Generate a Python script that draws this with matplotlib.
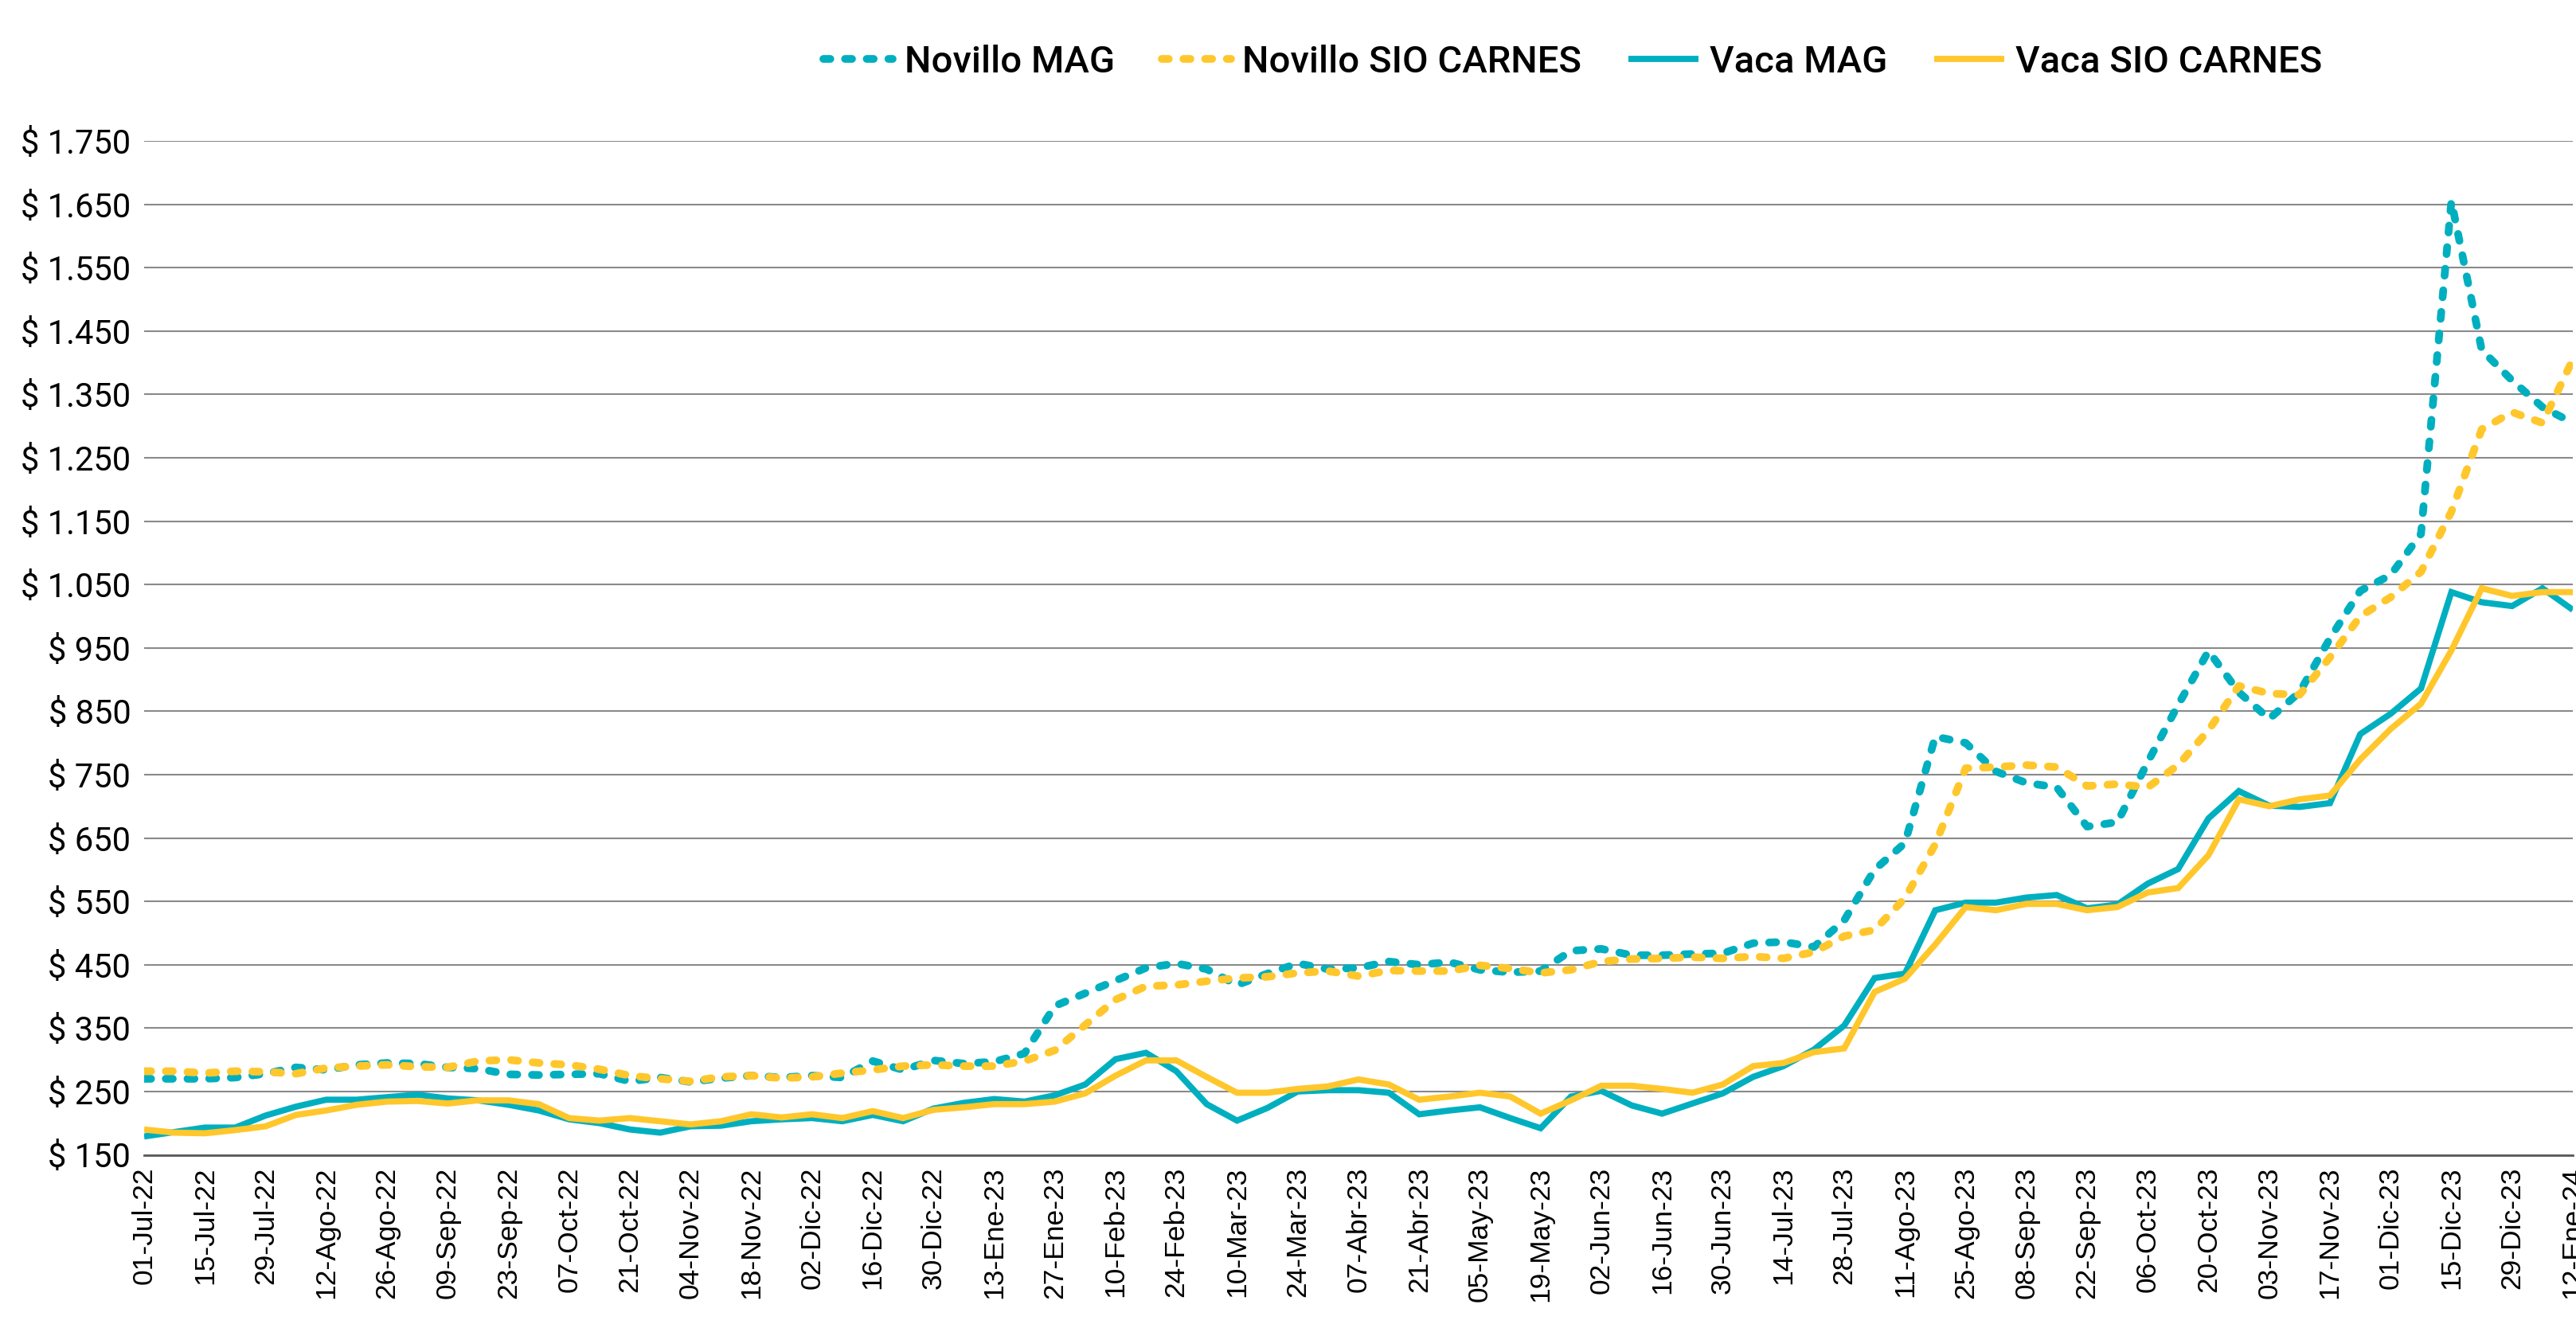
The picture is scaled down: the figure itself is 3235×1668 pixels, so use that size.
import matplotlib
matplotlib.use("Agg")
import matplotlib.pyplot as plt
from matplotlib.ticker import FuncFormatter

# ---------------- data (weekly, 01-Jul-22 .. 12-Ene-24) ----------------
tick_labels = [
    "01-Jul-22", "15-Jul-22", "29-Jul-22", "12-Ago-22", "26-Ago-22", "09-Sep-22",
    "23-Sep-22", "07-Oct-22", "21-Oct-22", "04-Nov-22", "18-Nov-22", "02-Dic-22",
    "16-Dic-22", "30-Dic-22", "13-Ene-23", "27-Ene-23", "10-Feb-23", "24-Feb-23",
    "10-Mar-23", "24-Mar-23", "07-Abr-23", "21-Abr-23", "05-May-23", "19-May-23",
    "02-Jun-23", "16-Jun-23", "30-Jun-23", "14-Jul-23", "28-Jul-23", "11-Ago-23",
    "25-Ago-23", "08-Sep-23", "22-Sep-23", "06-Oct-23", "20-Oct-23", "03-Nov-23",
    "17-Nov-23", "01-Dic-23", "15-Dic-23", "29-Dic-23", "12-Ene-24",
]

novillo_mag = [
    270, 270, 270, 272, 278, 288, 284, 292, 295, 294,
    288, 286, 277, 276, 277, 278, 266, 272, 265, 271,
    275, 272, 275, 272, 298, 284, 299, 294, 297, 310,
    385, 405, 425, 445, 452, 443, 418, 436, 452, 443,
    445, 455, 450, 454, 442, 438, 440, 472, 475, 465,
    465, 467, 468, 484, 486, 478, 520, 600, 642, 810,
    800, 755, 737, 730, 668, 675, 770, 860, 945, 880,
    838, 880, 965, 1040, 1065, 1130, 1655, 1420, 1372, 1330,
    1305,
]

novillo_sio = [
    282, 282, 279, 282, 281, 278, 287, 290, 292, 289,
    288, 298, 300, 295, 292, 285, 275, 270, 266, 273,
    275, 271, 273, 279, 284, 290, 292, 290, 290, 298,
    315, 355, 395, 416, 418, 424, 429, 431, 437, 440,
    432, 441, 440, 440, 449, 444, 437, 442, 455, 459,
    460, 462, 460, 463, 460, 470, 495, 505, 555, 640,
    760, 762, 765, 762, 732, 735, 730, 765, 820, 890,
    878, 876, 935, 1000, 1030, 1070, 1165, 1295, 1322, 1305,
    1405,
]

vaca_mag = [
    179, 186, 193, 193, 212, 226, 237, 237, 241, 245,
    239, 236, 229, 220, 206, 200, 190, 185, 195, 196,
    203, 206, 208, 203, 213, 203, 223, 232, 238, 234,
    244, 261, 301, 311, 282, 230, 204, 224, 250, 252,
    252, 248, 214, 220, 225, 208, 192, 242, 251, 228,
    215, 231, 247, 273, 290, 316, 354, 429, 436, 536,
    548, 548, 556, 560, 539, 545, 578, 601, 681, 724,
    701, 699, 705, 814, 846, 886, 1038, 1022, 1016, 1044,
    1010,
]

vaca_sio = [
    190, 185, 184, 189, 195, 213, 220, 229, 234, 235,
    231, 236, 236, 230, 208, 204, 208, 203, 198, 203,
    214, 209, 214, 208, 219, 208, 221, 225, 230, 230,
    234, 247, 275, 299, 299, 273, 248, 248, 254, 258,
    269, 261, 237, 242, 248, 242, 215, 236, 259, 259,
    254, 248, 261, 290, 295, 312, 318, 407, 428, 482,
    541, 536, 546, 546, 536, 541, 564, 571, 623, 711,
    700, 711, 717, 774, 822, 862, 946, 1044, 1032, 1038,
    1038,
]

series_names = ["Novillo MAG", "Novillo SIO CARNES", "Vaca MAG", "Vaca SIO CARNES"]

# ---------------- styling ----------------
TEAL = "#00AFBF"
GOLD = "#FFC72C"

W, H, DPI = 3235, 1668, 100
fig = plt.figure(figsize=(W / DPI, H / DPI), dpi=DPI)
left, right = 181 / W, 3231 / W
bottom, top = 1 - 1450.5 / H, 1 - 177 / H
ax = fig.add_axes([left, bottom, right - left, top - bottom])

x = list(range(len(novillo_mag)))

dash_kw = dict(linewidth=7.0, linestyle=(0, (0.9, 1.9)), dash_capstyle="round")
solid_kw = dict(linewidth=5.6, solid_joinstyle="miter", solid_capstyle="butt")

ax.plot(x, novillo_mag, color=TEAL, label=series_names[0], zorder=3, **dash_kw)
ax.plot(x, novillo_sio, color=GOLD, label=series_names[1], zorder=3, **dash_kw)
ax.plot(x, vaca_mag, color=TEAL, label=series_names[2], zorder=3, **solid_kw)
ax.plot(x, vaca_sio, color=GOLD, label=series_names[3], zorder=3, **solid_kw)

ax.set_xlim(0, len(x) - 1)
ax.set_ylim(150, 1750)
ax.set_yticks(list(range(150, 1751, 100)))


def fmt(v, pos):
    s = f"{int(round(v)):,}".replace(",", ".")
    return f"$ {s}"


ax.yaxis.set_major_formatter(FuncFormatter(fmt))
ax.grid(axis="y", color="#8A8A8A", linewidth=1.5, zorder=0)
ax.set_axisbelow(True)

ax.set_xticks(list(range(0, len(x), 2)))
ax.set_xticklabels(tick_labels, rotation=90, family=["Liberation Sans", "DejaVu Sans"],
                   fontsize=25.5, color="black")
for lab in ax.get_yticklabels():
    lab.set_family(["Roboto", "DejaVu Sans"])
    lab.set_fontsize(30)
    lab.set_color("black")

ax.tick_params(axis="both", length=0)
ax.tick_params(axis="y", pad=12)
ax.tick_params(axis="x", pad=11)

for s in ("top", "right", "left"):
    ax.spines[s].set_visible(False)
ax.spines["bottom"].set_color("#5A5A5A")
ax.spines["bottom"].set_linewidth(2)

leg = fig.legend(loc="center", bbox_to_anchor=(1975 / W, 1 - 78 / H), ncol=4,
                 frameon=False, handlelength=1.85, handletextpad=0.3,
                 columnspacing=1.25,
                 prop={"family": ["Roboto", "DejaVu Sans"], "size": 34, "weight": "medium"})

fig.savefig("out.png", dpi=DPI)
